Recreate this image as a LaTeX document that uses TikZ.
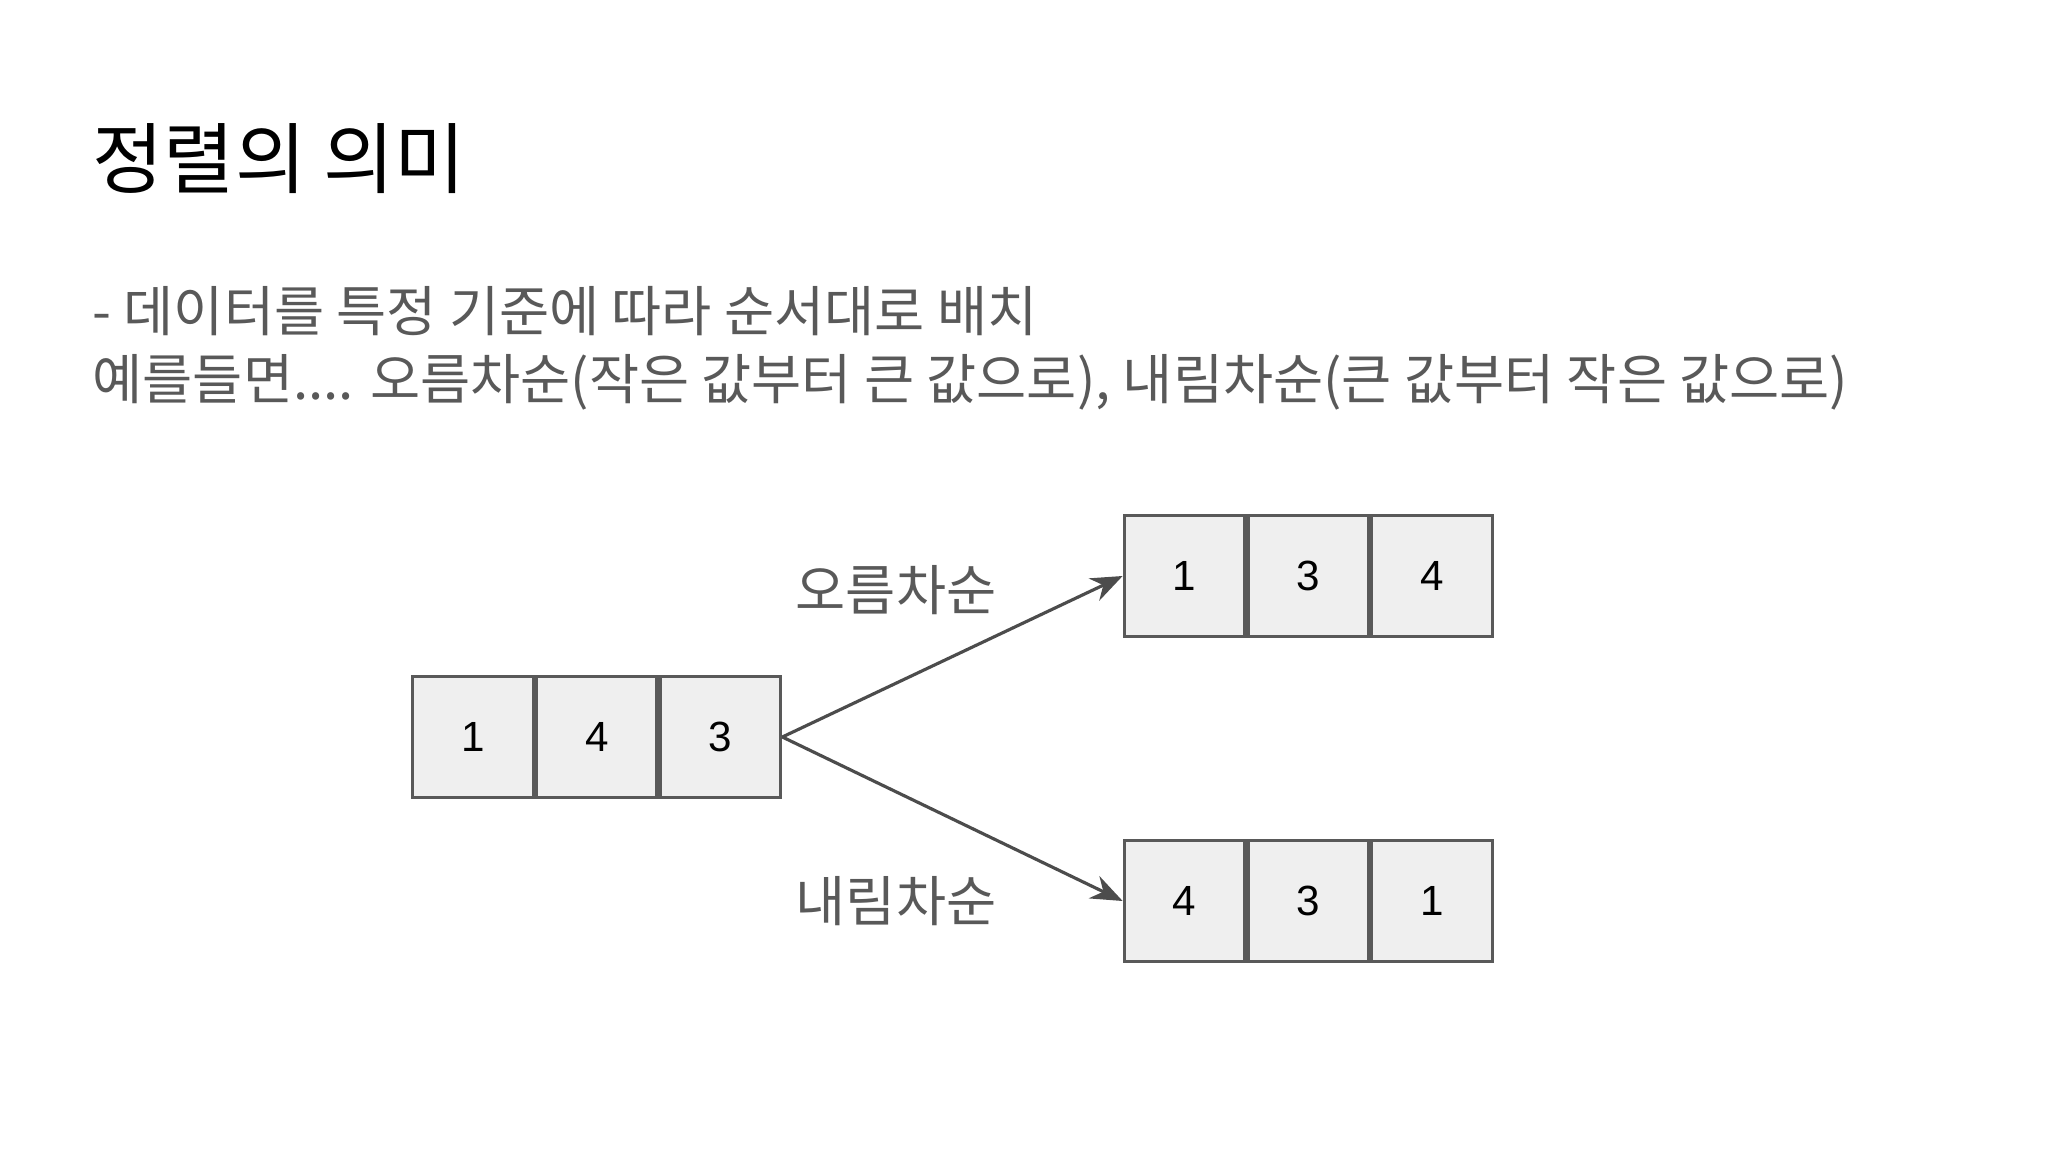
\documentclass[tikz,border=0pt]{standalone}
\usepackage{fontspec}
\setmainfont{Noto Sans CJK KR}
\newfontfamily\numfont{Liberation Sans}
\usetikzlibrary{arrows.meta}
\definecolor{txtgray}{HTML}{595959}
\definecolor{cellfill}{HTML}{EFEFEF}
\definecolor{linegray}{HTML}{595959}
\tikzset{
  cell/.style={draw=linegray,fill=cellfill,line width=0.9pt,minimum width=1.205cm,minimum height=1.21cm,inner sep=0pt,font=\numfont\fontsize{12}{14}\selectfont,text=black},
  lbl/.style={font=\fontsize{15.5}{18}\selectfont,text=txtgray},
  arr/.style={draw=linegray!85!black,line width=0.9pt,-{Stealth[length=9pt,width=7pt]}}
}
\begin{document}
\begin{tikzpicture}[x=0.01cm,y=-0.01cm]
\useasboundingbox (0,0) rectangle (2048,1152);
\node[anchor=west,inner sep=0pt,font=\fontsize{22}{26}\selectfont] (title) at (92,159) {정렬의 의미};
\node[anchor=west,inner sep=0pt,lbl] (l1) at (92,311) {- 데이터를 특정 기준에 따라 순서대로 배치};
\node[anchor=west,inner sep=0pt,lbl] (l2) at (92,382) {예를들면.... 오름차순(작은 값부터 큰 값으로), 내림차순(큰 값부터 작은 값으로)};
% left
\node[cell] (a1) at (473,737) {1};
\node[cell,anchor=west] (a2) at (a1.east) {4};
\node[cell,anchor=west] (a3) at (a2.east) {3};
% top
\node[cell] (b1) at (1184.5,576) {1};
\node[cell,anchor=west] (b2) at (b1.east) {3};
\node[cell,anchor=west] (b3) at (b2.east) {4};
% bottom
\node[cell] (c1) at (1184.5,901) {4};
\node[cell,anchor=west] (c2) at (c1.east) {3};
\node[cell,anchor=west] (c3) at (c2.east) {1};
\draw[arr] (a3.east) -- (b1.west);
\draw[arr] (a3.east) -- (c1.west);
\node[lbl] (up) at (896,590) {오름차순};
\node[lbl] (down) at (896,901) {내림차순};
\end{tikzpicture}
\end{document}
